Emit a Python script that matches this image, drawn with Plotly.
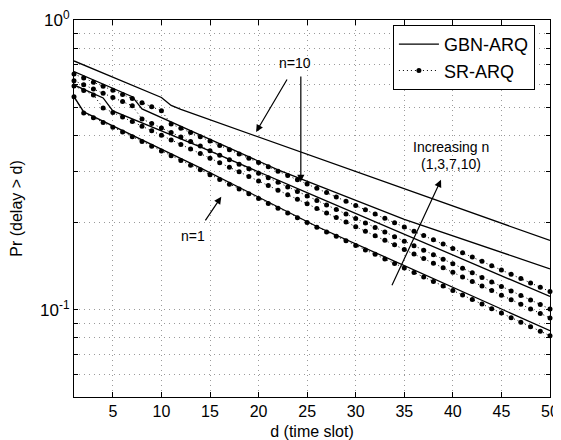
import plotly.graph_objects as go

# ---- data ----
d_all = list(range(1, 51))

# GBN-ARQ curves (solid) given at their break points
gbn10_d = [1, 10, 11, 12, 50]
gbn10_v = [0.7221, 0.5404, 0.5072, 0.4914, 0.1734]
gbn7_d = [1, 7, 8, 22, 35, 50]
gbn7_v = [0.6633, 0.5437, 0.4933, 0.3040, 0.2052, 0.1384]
gbn3_d = [1, 4, 5, 14, 26, 50]
gbn3_v = [0.5969, 0.5383, 0.4855, 0.3648, 0.2453, 0.1111]
gbn1_d = [1, 2, 14, 26, 50]
gbn1_v = [0.5437, 0.4817, 0.3088, 0.1938, 0.08464]

# SR-ARQ curves (dotted with markers), one value per time slot d = 1..50
sr10_v = [0.6512, 0.6306, 0.6103, 0.5907, 0.5717, 0.5534, 0.5357, 0.5185, 0.5019, 0.4858,
          0.4378, 0.4231, 0.4089, 0.3952, 0.3820, 0.3692, 0.3568, 0.3449, 0.3333, 0.3221,
          0.3113, 0.3009, 0.2908, 0.2811, 0.2716, 0.2625, 0.2537, 0.2452, 0.2370, 0.2290,
          0.2214, 0.2139, 0.2068, 0.1998, 0.1931, 0.1866, 0.1804, 0.1743, 0.1685, 0.1628,
          0.1574, 0.1521, 0.1470, 0.1419, 0.1371, 0.1325, 0.1281, 0.1238, 0.1196, 0.1156]
sr7_v = [0.6176, 0.5974, 0.5776, 0.5587, 0.5405, 0.5228, 0.5056, 0.4556, 0.4395, 0.4240,
         0.4089, 0.3945, 0.3805, 0.3671, 0.3540, 0.3416, 0.3296, 0.3179, 0.3067, 0.2958,
         0.2854, 0.2754, 0.2655, 0.2562, 0.2472, 0.2384, 0.2300, 0.2219, 0.2141, 0.2065,
         0.1991, 0.1921, 0.1854, 0.1788, 0.1725, 0.1664, 0.1605, 0.1549, 0.1493, 0.1441,
         0.1390, 0.1341, 0.1293, 0.1248, 0.1203, 0.1161, 0.1120, 0.1080, 0.1042, 0.1006]
sr3_v = [0.5921, 0.5713, 0.5513, 0.4973, 0.4795, 0.4625, 0.4460, 0.4300, 0.4148, 0.3999,
         0.3857, 0.3719, 0.3587, 0.3459, 0.3336, 0.3217, 0.3102, 0.2992, 0.2885, 0.2782,
         0.2684, 0.2587, 0.2495, 0.2407, 0.2320, 0.2238, 0.2158, 0.2081, 0.2007, 0.1936,
         0.1867, 0.1800, 0.1736, 0.1675, 0.1615, 0.1557, 0.1502, 0.1447, 0.1396, 0.1347,
         0.1298, 0.1252, 0.1207, 0.1165, 0.1123, 0.1083, 0.1044, 0.1007, 0.0971, 0.0937]
sr1_v = [0.5437, 0.4778, 0.4602, 0.4431, 0.4268, 0.4110, 0.3957, 0.3811, 0.3670, 0.3534,
         0.3403, 0.3277, 0.3156, 0.3040, 0.2925, 0.2816, 0.2712, 0.2610, 0.2513, 0.2420,
         0.2328, 0.2242, 0.2158, 0.2077, 0.2000, 0.1925, 0.1857, 0.1792, 0.1729, 0.1668,
         0.1609, 0.1553, 0.1498, 0.1444, 0.1393, 0.1345, 0.1297, 0.1252, 0.1207, 0.1165,
         0.1124, 0.1084, 0.1046, 0.1009, 0.0974, 0.0939, 0.0906, 0.0874, 0.0843, 0.0814]

x_ticks = [5, 10, 15, 20, 25, 30, 35, 40, 45, 50]
y_ticks = [0.06, 0.07, 0.08, 0.09, 0.1, 0.2, 0.3, 0.4, 0.5, 0.6, 0.7, 0.8, 0.9, 1.0]
y_ticktext = ['', '', '', '', '10<sup>-1</sup>', '', '', '', '', '', '', '', '', '10<sup>0</sup>']

FONT = "Liberation Sans, Arial, Helvetica, sans-serif"

fig = go.Figure()

solid = dict(color="black", width=1.3)
for i, (dd, vv) in enumerate([(gbn10_d, gbn10_v), (gbn7_d, gbn7_v), (gbn3_d, gbn3_v), (gbn1_d, gbn1_v)]):
    fig.add_trace(go.Scatter(x=dd, y=vv, mode="lines", line=solid,
                             name="GBN-ARQ", showlegend=(i == 0), legendrank=1))

for i, vv in enumerate([sr10_v, sr7_v, sr3_v, sr1_v]):
    fig.add_trace(go.Scatter(x=d_all, y=vv, mode="lines+markers",
                             line=dict(color="black", width=1, dash="1px,3px"),
                             marker=dict(color="black", size=5, symbol="circle"),
                             cliponaxis=False,
                             name="SR-ARQ", showlegend=(i == 0), legendrank=2))

ann_font = dict(family=FONT, size=14, color="black")
arrow = dict(showarrow=True, arrowhead=2, arrowsize=1.2, arrowwidth=1.2, arrowcolor="black",
             axref="x", ayref="y", xref="x", yref="y", text="")
annotations = [
    dict(x=19.75, y=-0.3862, ax=23.02, ay=-0.2, **arrow),
    dict(x=24.35, y=-0.5586, ax=24.35, ay=-0.1897, **arrow),
    dict(x=16.16, y=-0.6103, ax=14.42, ay=-0.6966, **arrow),
    dict(x=38.78, y=-0.5517, ax=33.66, ay=-0.9207, **arrow),
    dict(x=23.74, y=-0.1483, text="n=10", showarrow=False, font=ann_font, xref="x", yref="y"),
    dict(x=13.30, y=-0.7448, text="n=1", showarrow=False, font=ann_font, xref="x", yref="y"),
    dict(x=39.8, y=-0.4379, text="Increasing n", showarrow=False, font=ann_font, xref="x", yref="y"),
    dict(x=39.8, y=-0.4966, text="(1,3,7,10)", showarrow=False, font=ann_font, xref="x", yref="y"),
]

grid = dict(showgrid=True, gridcolor="#9a9a9a", gridwidth=1, griddash="1px,4px")

# page body adds an 8px offset; margins are set so the plot lands where the reference has it
fig.update_layout(
    width=561, height=432,
    margin=dict(l=66, r=19, t=12, b=43, autoexpand=False),
    paper_bgcolor="white", plot_bgcolor="white",
    font=dict(family=FONT, size=16, color="black"),
    annotations=annotations,
    legend=dict(x=0.67, y=0.987, xanchor="left", yanchor="top",
                bgcolor="white", bordercolor="black", borderwidth=1,
                font=dict(family=FONT, size=18, color="black"),
                tracegroupgap=0, itemwidth=40),
    xaxis=dict(range=[1, 50], tickvals=x_ticks, ticks="inside", ticklen=5, tickcolor="black",
               showline=True, linecolor="black", linewidth=1, mirror="ticks", zeroline=False,
               title=dict(text="d (time slot)", font=dict(size=16)),
               tickfont=dict(size=16), ticklabeloverflow="allow", automargin=False, **grid),
    yaxis=dict(type="log", range=[-1.30103, 0], tickvals=y_ticks, ticktext=y_ticktext,
               ticks="inside", ticklen=4, tickcolor="black",
               showline=True, linecolor="black", linewidth=1, mirror="ticks", zeroline=False,
               title=dict(text="Pr (delay > d)", font=dict(size=16)),
               tickfont=dict(size=17), ticklabeloverflow="allow", automargin=False, **grid),
)

fig.write_html("out.html")
